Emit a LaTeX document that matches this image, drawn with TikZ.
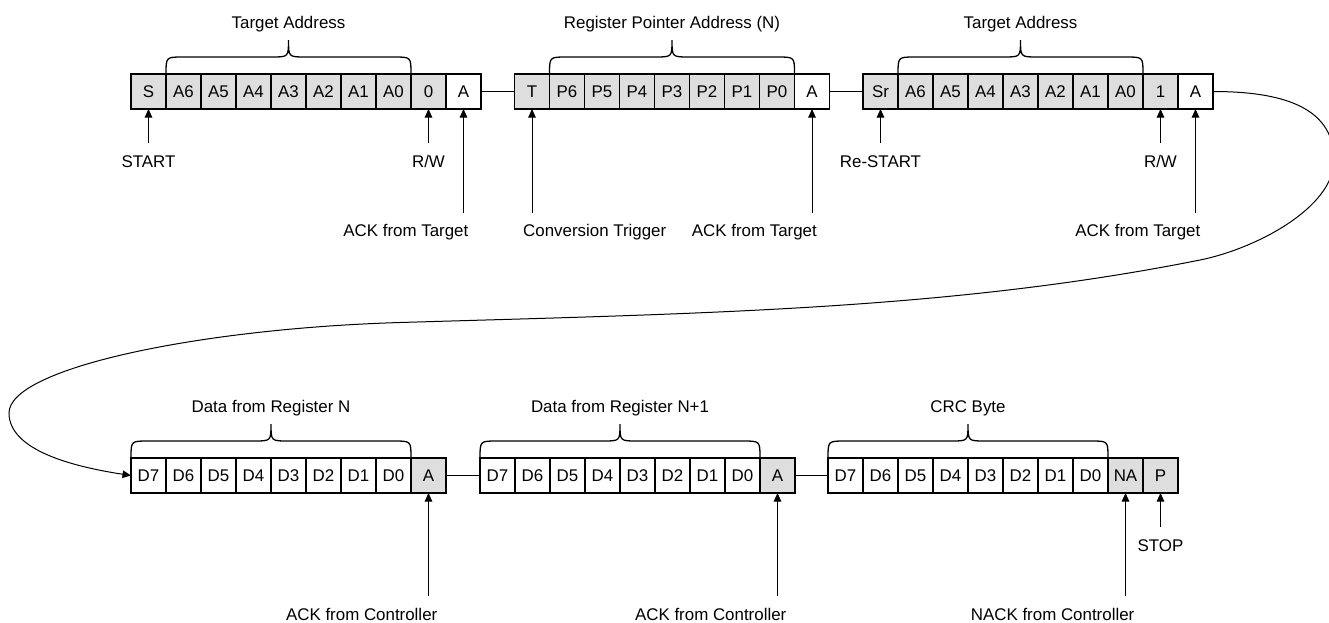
\documentclass[tikz,border=0pt]{standalone}
\usepackage{fontspec}
\setmainfont{Liberation Sans}
\usetikzlibrary{arrows.meta,calc}

\definecolor{bitshade}{HTML}{DEDEDE}
\newcommand\lblfont{\fontsize{16.9}{19.5}\selectfont}

\tikzset{
  bit/.style={draw, line width=1.3pt, minimum width=35pt, minimum height=35pt,
    inner sep=0pt, outer sep=0pt, text height=12pt, text depth=0pt, font=\lblfont},
  sh/.style={fill=bitshade},
  wh/.style={fill=white},
  lbl/.style={inner sep=0pt, font=\lblfont},
  link/.style={line width=1.3pt},
  brc/.style={line width=1.3pt},
  ptr/.style={line width=1pt, -{Triangle[length=8.5pt,width=7.5pt]}},
}

% one frame segment: name prefix, left x, centre y, list of text/style
\newcommand\bitrow[4]{%
  \foreach \t/\s [count=\i from 0] in {#4}
    \node[bit,\s] (#1\i) at ({#2+(\i+0.5)*35},#3) {\t};}

% curly brace over a run of bits, with its caption
\newcommand\bitbrace[3]{%
  \draw[brc] let \p1=(#1.north west), \p2=(#2.north east),
                 \p3=($(\p1)!0.5!(\p2)$) in
    (\p1) .. controls (\x1,\y1+17pt) .. (\x1+17pt,\y1+17pt)
    -- (\x3-17pt,\y1+17pt) .. controls (\x3,\y1+17pt) .. (\x3,\y1+34pt)
    .. controls (\x3,\y1+17pt) .. (\x3+17pt,\y1+17pt)
    -- (\x2-17pt,\y1+17pt) .. controls (\x2,\y1+17pt) .. (\p2)
    node[lbl,anchor=base] at (\x3,\y1+46pt) {#3};}

\begin{document}
\begin{tikzpicture}[x=1pt,y=-1pt]
\useasboundingbox (0,0) rectangle (1329,622);
\clip (0,0) rectangle (1329,622);

% ---- write phase: address, register pointer, repeated address ----
\bitrow{g1}{131}{91.5}{S/sh,A6/sh,A5/sh,A4/sh,A3/sh,A2/sh,A1/sh,A0/sh,0/sh,A/wh}
\bitrow{g2}{514.5}{91.5}{T/sh,P6/sh,P5/sh,P4/sh,P3/sh,P2/sh,P1/sh,P0/sh,A/wh}
\bitrow{g3}{863}{91.5}{Sr/sh,A6/sh,A5/sh,A4/sh,A3/sh,A2/sh,A1/sh,A0/sh,1/sh,A/wh}

% ---- read phase: two data bytes and the CRC ----
\bitrow{g4}{131}{475.5}{D7/wh,D6/wh,D5/wh,D4/wh,D3/wh,D2/wh,D1/wh,D0/wh,A/sh}
\bitrow{g5}{480}{475.5}{D7/wh,D6/wh,D5/wh,D4/wh,D3/wh,D2/wh,D1/wh,D0/wh,A/sh}
\bitrow{g6}{828}{475.5}{D7/wh,D6/wh,D5/wh,D4/wh,D3/wh,D2/wh,D1/wh,D0/wh,NA/sh,P/sh}

% links between segments
\draw[link] (g19.east) -- (g20.west);
\draw[link] (g28.east) -- (g30.west);
\draw[link] (g48.east) -- (g50.west);
\draw[link] (g58.east) -- (g60.west);

% braces
\bitbrace{g11}{g17}{Target Address}
\bitbrace{g21}{g27}{Register Pointer Address (N)}
\bitbrace{g31}{g37}{Target Address}
\bitbrace{g40}{g47}{Data from Register N}
\bitbrace{g50}{g57}{Data from Register N+1}
\bitbrace{g60}{g67}{CRC Byte}

% ---- pointers, first line ----
\coordinate (eStart) at (g10.south |- 0,143);
\node[lbl,anchor=base] (tStart) at (g10.south |- 0,167) {START};
\draw[ptr] (eStart) -- (g10.south);

\coordinate (eRw1) at (g18.south |- 0,143);
\node[lbl,anchor=base] (tRw1) at (g18.south |- 0,167) {R/W};
\draw[ptr] (eRw1) -- (g18.south);

\coordinate (eAck1) at (g19.south |- 0,213);
\node[lbl,anchor=base east,xshift=5pt] (tAck1) at (g19.south |- 0,236) {ACK from Target};
\draw[ptr] (eAck1) -- (g19.south);

\coordinate (eConv) at (g20.south |- 0,213);
\node[lbl,anchor=base west,xshift=-9pt] (tConv) at (g20.south |- 0,236) {Conversion Trigger};
\draw[ptr] (eConv) -- (g20.south);

\coordinate (eAck2) at (g28.south |- 0,213);
\node[lbl,anchor=base east,xshift=5pt] (tAck2) at (g28.south |- 0,236) {ACK from Target};
\draw[ptr] (eAck2) -- (g28.south);

\coordinate (eRestart) at (g30.south |- 0,143);
\node[lbl,anchor=base] (tRestart) at (g30.south |- 0,167) {Re-START};
\draw[ptr] (eRestart) -- (g30.south);

\coordinate (eRw2) at (g38.south |- 0,143);
\node[lbl,anchor=base] (tRw2) at (g38.south |- 0,167) {R/W};
\draw[ptr] (eRw2) -- (g38.south);

\coordinate (eAck3) at (g39.south |- 0,213);
\node[lbl,anchor=base east,xshift=5pt] (tAck3) at (g39.south |- 0,236) {ACK from Target};
\draw[ptr] (eAck3) -- (g39.south);

% ---- pointers, second line ----
\coordinate (eCtl1) at (g48.south |- 0,596);
\node[lbl,anchor=base east,xshift=9pt] (tCtl1) at (g48.south |- 0,620) {ACK from Controller};
\draw[ptr] (eCtl1) -- (g48.south);

\coordinate (eCtl2) at (g58.south |- 0,596);
\node[lbl,anchor=base east,xshift=9pt] (tCtl2) at (g58.south |- 0,620) {ACK from Controller};
\draw[ptr] (eCtl2) -- (g58.south);

\coordinate (eNack) at (g68.south |- 0,596);
\node[lbl,anchor=base east,xshift=9pt] (tNack) at (g68.south |- 0,620) {NACK from Controller};
\draw[ptr] (eNack) -- (g68.south);

\coordinate (eStop) at (g69.south |- 0,527);
\node[lbl,anchor=base] (tStop) at (g69.south |- 0,551) {STOP};
\draw[ptr] (eStop) -- (g69.south);

% ---- continuation from the first line to the second ----
\draw[ptr] (g39.east) .. controls (1292,91.5) and (1334,112) .. (1334,160)
  .. controls (1334,208) and (1255,249) .. (1200,260)
  .. controls (950,310) and (700,313.5) .. (400,322.5)
  .. controls (200,328.5) and (9,368) .. (9,413)
  .. controls (9,450) and (72,466.5) .. (g40.west);
\end{tikzpicture}
\end{document}
